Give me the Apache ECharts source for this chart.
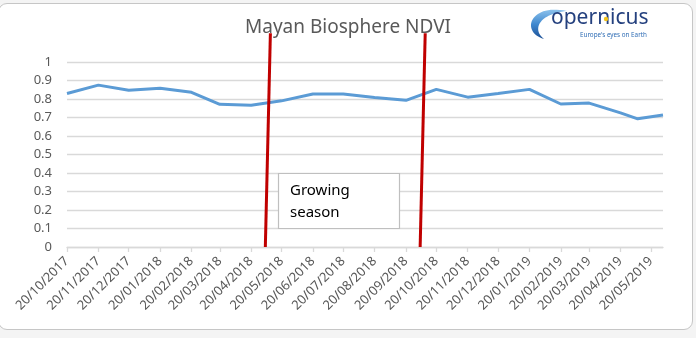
<!DOCTYPE html>
<html>
<head>
<meta charset="utf-8">
<title>Mayan Biosphere NDVI</title>
<script src="https://cdn.jsdelivr.net/npm/echarts@6/dist/echarts.min.js"></script>
<style>
  html, body { margin: 0; padding: 0; background: #ffffff; }
  #wrap { position: relative; width: 696px; height: 338px; overflow: hidden; background: #f4f4f4; }
  #frame { position: absolute; left: -2px; top: 3px; width: 695px; height: 327px;
           border: 1.5px solid #c6c6c6; border-radius: 9px; background: #ffffff; box-sizing: border-box; }
  #chart { position: absolute; left: 0; top: 0; width: 696px; height: 338px; }
</style>
</head>
<body>
<div id="wrap">
  <div id="frame"></div>
  <div id="chart"></div>
</div>
<script>
// Monthly NDVI readings
const obsDates = ['2017-10-20', '2017-11-20', '2017-12-20', '2018-01-20', '2018-02-20', '2018-03-20',
                  '2018-04-20', '2018-05-20', '2018-06-20', '2018-07-20', '2018-08-20', '2018-09-20',
                  '2018-10-20', '2018-11-20', '2018-12-20', '2019-01-20', '2019-02-20', '2019-03-20',
                  '2019-04-20', '2019-05-07', '2019-06-01'];
const ndviValues = [0.830, 0.875, 0.847, 0.858, 0.836, 0.771,
                    0.766, 0.790, 0.827, 0.827, 0.808, 0.793,
                    0.852, 0.810, 0.830, 0.852, 0.773, 0.778,
                    0.725, 0.693, 0.713];

// Tick labels on the date axis
const tickDates = ['2017-10-20', '2017-11-20', '2017-12-20', '2018-01-20', '2018-02-20', '2018-03-20',
                   '2018-04-20', '2018-05-20', '2018-06-20', '2018-07-20', '2018-08-20', '2018-09-20',
                   '2018-10-20', '2018-11-20', '2018-12-20', '2019-01-20', '2019-02-20', '2019-03-20',
                   '2019-04-20', '2019-05-20'];
const axisStart = '2017-10-20';
const axisEnd = '2019-06-01';

// Growing season boundaries (bottom, top)
const seasonStartDates = ['2018-05-04', '2018-05-09'];
const seasonEndDates = ['2018-10-04', '2018-10-09'];
const seasonLevels = [0, 1.155];

function toTime(s) {
  const p = s.split('-').map(Number);
  return new Date(p[0], p[1] - 1, p[2]).getTime();
}
function fmtDate(t) {
  const d = new Date(t);
  const dd = String(d.getDate()).padStart(2, '0');
  const mm = String(d.getMonth() + 1).padStart(2, '0');
  return dd + '/' + mm + '/' + d.getFullYear();
}

const ndviData = obsDates.map((d, i) => [toTime(d), ndviValues[i]]);
const startLine = seasonStartDates.map((d, i) => [toTime(d), seasonLevels[i]]);
const endLine = seasonEndDates.map((d, i) => [toTime(d), seasonLevels[i]]);
const tickTimes = tickDates.map(toTime);

// Crescent outline of the logo's "C", sampled from two cubic curves
function cubic(p0, p1, p2, p3, n) {
  const pts = [];
  for (let i = 0; i <= n; i++) {
    const t = i / n, u = 1 - t;
    pts.push([
      u * u * u * p0[0] + 3 * u * u * t * p1[0] + 3 * u * t * t * p2[0] + t * t * t * p3[0],
      u * u * u * p0[1] + 3 * u * u * t * p1[1] + 3 * u * t * t * p2[1] + t * t * t * p3[1]
    ]);
  }
  return pts;
}
const swoosh = cubic([567, 11], [530, 3], [520, 32], [544, 39], 30)
  .concat(cubic([544, 39], [532, 30], [538, 14], [567, 11], 30));

const FONT = 'Noto Sans';
const chart = echarts.init(document.getElementById('chart'), null, { renderer: 'canvas' });

chart.setOption({
  backgroundColor: 'transparent',
  animation: false,
  textStyle: { fontFamily: FONT },
  title: {
    text: 'Mayan Biosphere NDVI',
    left: 'center',
    top: 13,
    z: 1,
    textStyle: { fontFamily: FONT, fontSize: 19, fontWeight: 'normal', color: '#595959' }
  },
  grid: { left: 67, right: 33, top: 62, bottom: 91 },
  xAxis: {
    type: 'value',
    min: toTime(axisStart),
    max: toTime(axisEnd),
    splitLine: { show: false },
    axisLine: { show: true, lineStyle: { color: '#d9d9d9', width: 1.3 } },
    axisTick: { show: true, customValues: tickTimes, length: 5, lineStyle: { color: '#d9d9d9', width: 1.3 } },
    axisLabel: {
      customValues: tickTimes,
      rotate: 45,
      margin: 12,
      color: '#595959',
      fontFamily: FONT,
      fontSize: 13,
      formatter: (v) => fmtDate(v)
    }
  },
  yAxis: {
    type: 'value',
    min: 0,
    max: 1,
    interval: 0.1,
    axisLine: { show: false },
    axisTick: { show: false },
    splitLine: { lineStyle: { color: '#d9d9d9', width: 1.3 } },
    axisLabel: {
      margin: 15,
      color: '#595959',
      fontFamily: FONT,
      fontSize: 13,
      formatter: (v) => String(Math.round(v * 10) / 10)
    }
  },
  series: [
    {
      name: 'NDVI',
      type: 'line',
      data: ndviData,
      showSymbol: false,
      symbol: 'none',
      lineStyle: { color: '#5b9bd5', width: 3 },
      z: 3
    },
    {
      name: 'Season start',
      type: 'line',
      data: startLine,
      clip: false,
      symbol: 'none',
      lineStyle: { color: '#c00000', width: 3 },
      z: 6
    },
    {
      name: 'Season end',
      type: 'line',
      data: endLine,
      clip: false,
      symbol: 'none',
      lineStyle: { color: '#c00000', width: 3 },
      z: 6
    }
  ],
  graphic: [
    // "Growing season" callout box
    {
      type: 'rect',
      shape: { x: 278.5, y: 173.5, width: 121, height: 55 },
      style: { fill: '#ffffff', stroke: '#bfbfbf', lineWidth: 1.2 },
      z: 20
    },
    {
      type: 'text',
      x: 290,
      y: 180,
      style: {
        text: 'Growing\nseason',
        fill: '#000000',
        font: '15px "Noto Sans"',
        lineHeight: 22
      },
      z: 21
    },
    // Copernicus logo: swoosh, wordmark and tagline
    {
      type: 'polygon',
      shape: { points: swoosh },
      style: {
        fill: {
          type: 'linear', x: 0, y: 0, x2: 0, y2: 1,
          colorStops: [{ offset: 0, color: '#8cc2ec' }, { offset: 0.5, color: '#3f88cf' }, { offset: 1, color: '#1c4f95' }]
        }
      },
      z: 20
    },
    {
      type: 'text',
      x: 551,
      y: 8,
      style: { text: 'opernicus', fill: '#24407e', font: '21px "Noto Sans"' },
      z: 20
    },
    {
      type: 'circle',
      shape: { cx: 606, cy: 19, r: 2.2 },
      style: { fill: '#f2c31b' },
      z: 21
    },
    {
      type: 'text',
      x: 580,
      y: 32,
      style: { text: "Europe's eyes on Earth", fill: '#2f6db5', font: '6.3px "Noto Sans"' },
      z: 20
    }
  ]
});
</script>
</body>
</html>
